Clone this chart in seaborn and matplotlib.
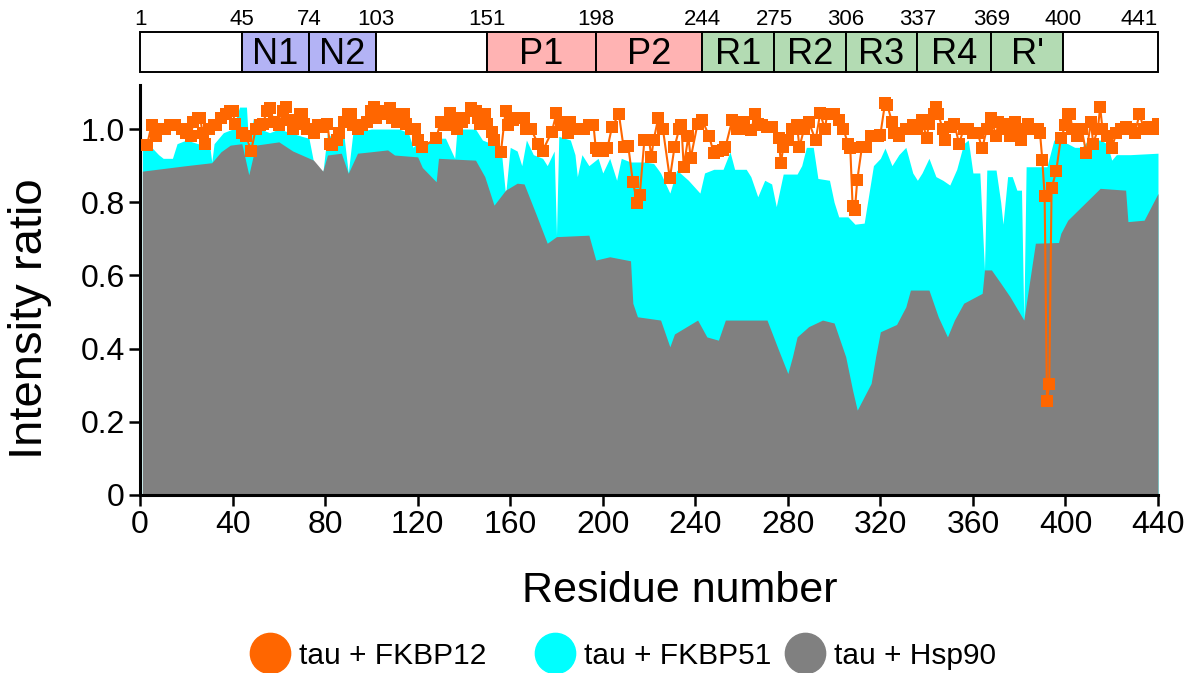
import matplotlib
matplotlib.use("Agg")
import matplotlib.pyplot as plt
from matplotlib.patches import Rectangle
from matplotlib.lines import Line2D
import seaborn as sns
import pandas as pd

# tau + FKBP12 (orange squares)
fkbp12_res = [3, 5, 7, 9, 11, 13, 15, 18, 20, 22, 23, 25, 26, 27, 28, 30, 32, 33, 35, 37,
              39, 40, 41, 44, 46, 48, 50, 52, 53, 55, 56, 58, 60, 62, 63, 64, 66, 68, 69, 70,
              71, 72, 74, 75, 77, 79, 81, 82, 83, 85, 86, 88, 90, 91, 92, 94, 96, 98, 100, 101,
              102, 104, 105, 107, 108, 109, 111, 113, 114, 115, 117, 119, 120, 122, 128, 130, 132, 134, 135, 137,
              139, 140, 143, 145, 146, 147, 149, 150, 152, 153, 156, 158, 159, 161, 163, 166, 167, 169, 172, 174,
              178, 180, 182, 184, 185, 186, 189, 192, 194, 196, 197, 198, 200, 202, 204, 207, 209, 211, 213, 215,
              216, 218, 220, 221, 222, 224, 226, 229, 231, 233, 234, 235, 237, 238, 241, 243, 246, 248, 250, 252,
              253, 256, 258, 260, 261, 264, 266, 267, 269, 271, 273, 276, 277, 278, 280, 282, 284, 285, 287, 289,
              292, 294, 296, 297, 300, 302, 304, 306, 307, 308, 309, 310, 312, 314, 316, 319, 320, 322, 323, 325,
              326, 328, 331, 334, 336, 338, 340, 341, 343, 344, 345, 347, 348, 350, 352, 354, 356, 358, 360, 362,
              364, 366, 368, 370, 371, 373, 375, 376, 378, 379, 381, 383, 384, 386, 388, 389, 390, 391, 392, 393,
              394, 396, 398, 400, 401, 402, 403, 405, 407, 409, 411, 412, 414, 415, 416, 418, 420, 422, 424, 426,
              428, 430, 432, 434, 436, 438, 440]
fkbp12_ratio = [0.956, 1.01, 0.98, 1.0, 1.0, 1.01, 1.01, 1.0, 0.99, 0.98, 1.02, 1.03, 1.03, 0.99, 0.96, 1.0, 1.01, 1.01, 1.03, 1.04,
                1.05, 1.05, 1.015, 0.99, 0.98, 0.94, 1.0, 1.01, 1.015, 1.05, 1.057, 1.02, 1.01, 1.05, 1.06, 1.025, 1.0, 1.02, 1.04, 1.04,
                1.015, 1.0, 1.0, 0.99, 1.01, 1.006, 1.015, 0.96, 0.956, 0.97, 0.99, 1.02, 1.04, 1.04, 1.01, 1.0, 1.01, 1.02, 1.05, 1.06,
                1.03, 1.04, 1.05, 1.04, 1.057, 1.03, 1.02, 1.04, 1.04, 1.015, 1.0, 1.0, 0.97, 0.95, 0.975, 1.02, 1.01, 1.043, 1.03, 1.0,
                1.02, 1.03, 1.057, 1.05, 1.03, 1.015, 1.04, 1.015, 0.993, 0.97, 0.938, 1.05, 1.01, 1.025, 1.03, 1.03, 1.0, 1.0, 0.96, 0.94,
                0.993, 1.043, 1.01, 1.02, 0.99, 1.02, 1.0, 1.0, 1.01, 1.01, 0.947, 0.94, 0.94, 0.947, 1.006, 1.04, 0.95, 0.955, 0.856, 0.797,
                0.82, 0.97, 0.97, 0.924, 0.97, 1.03, 1.0, 0.865, 0.95, 1.0, 1.01, 0.897, 0.98, 0.92, 1.015, 1.025, 0.98, 0.934, 0.94, 0.943,
                0.95, 1.025, 1.0, 1.0, 1.02, 0.997, 1.04, 1.015, 1.01, 1.006, 1.006, 0.975, 0.906, 0.95, 0.97, 1.0, 1.01, 0.95, 1.0, 1.02,
                0.97, 1.043, 1.0, 1.04, 1.04, 1.025, 1.0, 0.96, 0.947, 0.79, 0.78, 0.86, 0.95, 0.95, 0.98, 0.98, 0.985, 1.07, 1.065, 1.02,
                0.99, 0.98, 1.0, 1.01, 1.0, 1.025, 0.975, 1.015, 1.04, 1.06, 1.04, 1.0, 0.97, 1.006, 1.015, 0.96, 1.0, 1.0, 0.99, 0.99,
                0.947, 1.0, 1.03, 0.98, 1.02, 1.015, 1.0, 0.98, 1.02, 1.0, 0.97, 1.0, 1.015, 1.0, 1.0, 0.99, 0.915, 0.817, 0.258, 0.303,
                0.838, 0.885, 0.975, 1.01, 1.04, 1.04, 1.0, 0.98, 1.0, 0.934, 1.02, 0.96, 1.0, 1.06, 1.0, 0.98, 0.947, 0.99, 1.0, 1.006,
                1.0, 0.99, 1.04, 1.0, 1.006, 1.0, 1.015]

# tau + FKBP51 (cyan area)
fkbp51_res = [1, 5, 8, 10, 14, 16, 20, 25, 30, 31, 32, 36, 40, 43, 46, 47, 49, 52, 56, 60,
              65, 70, 73, 75, 77, 79, 81, 85, 88, 90, 92, 100, 106, 112, 116, 118, 121, 123, 128, 132,
              136, 137, 145, 148, 152, 156, 158, 160, 163, 165, 167, 170, 174, 176, 179, 180, 181, 186, 188, 189,
              191, 194, 198, 200, 203, 206, 208, 212, 218, 222, 225, 229, 232, 237, 242, 244, 248, 252, 255, 257,
              262, 264, 267, 270, 273, 275, 278, 284, 286, 288, 291, 293, 298, 300, 302, 306, 309, 313, 317, 320,
              322, 325, 328, 331, 334, 336, 338, 341, 344, 347, 350, 353, 356, 358, 360, 363, 365, 366, 370, 372,
              373, 375, 377, 379, 381, 382, 383, 392, 395, 401, 404, 407, 410, 415, 418, 420, 422, 428, 440]
fkbp51_ratio = [0.96, 0.95, 0.93, 0.92, 0.92, 0.96, 0.97, 0.96, 0.96, 0.91, 0.96, 0.99, 1.0, 1.06, 1.06, 0.95, 1.03, 1.0, 0.99, 1.0,
                0.99, 0.98, 0.975, 0.91, 0.89, 0.88, 0.99, 0.96, 0.99, 0.88, 0.99, 1.0, 1.0, 1.0, 0.99, 0.95, 0.97, 0.96, 0.975, 0.975,
                0.92, 1.0, 1.0, 0.97, 0.96, 0.95, 0.82, 0.95, 0.94, 0.9, 0.97, 0.93, 0.92, 0.9, 0.94, 0.71, 0.98, 0.97, 0.93, 0.87,
                0.93, 0.9, 0.92, 0.88, 0.92, 0.86, 0.92, 0.91, 0.91, 0.906, 0.88, 0.825, 0.888, 0.86, 0.825, 0.88, 0.89, 0.89, 0.938, 0.89,
                0.89, 0.87, 0.815, 0.86, 0.85, 0.788, 0.877, 0.877, 0.9, 0.95, 0.95, 0.865, 0.86, 0.8, 0.76, 0.76, 0.74, 0.743, 0.9, 0.92,
                0.948, 0.9, 0.93, 0.95, 0.88, 0.86, 0.88, 0.92, 0.87, 0.86, 0.847, 0.89, 0.96, 0.97, 0.88, 0.88, 0.615, 0.888, 0.888, 0.8,
                0.74, 0.87, 0.87, 0.833, 0.833, 0.478, 0.897, 0.897, 0.97, 0.96, 0.95, 0.95, 0.97, 0.97, 0.96, 0.915, 0.93, 0.93, 0.934]

# tau + Hsp90 (grey area)
hsp90_res = [1, 20, 31, 35, 39, 44, 47, 50, 60, 66, 75, 79, 81, 87, 90, 94, 100, 107, 110, 120,
             122, 128, 129, 145, 149, 153, 158, 163, 166, 171, 176, 180, 194, 197, 203, 212, 213, 215, 225, 229,
             231, 241, 245, 250, 253, 271, 276, 280, 282, 284, 289, 295, 300, 305, 308, 310, 316, 318, 320, 327,
             331, 333, 341, 345, 349, 352, 356, 364, 365, 368, 372, 376, 382, 387, 397, 398, 401, 415, 426, 427,
             434, 440]
hsp90_ratio = [0.885, 0.9, 0.908, 0.938, 0.956, 0.96, 0.875, 0.956, 0.965, 0.94, 0.915, 0.885, 0.929, 0.934, 0.879, 0.934, 0.938, 0.943, 0.929, 0.924,
               0.895, 0.856, 0.92, 0.915, 0.87, 0.792, 0.833, 0.852, 0.85, 0.77, 0.688, 0.706, 0.71, 0.642, 0.651, 0.64, 0.524, 0.487, 0.478, 0.405,
               0.44, 0.478, 0.432, 0.423, 0.478, 0.478, 0.396, 0.332, 0.378, 0.432, 0.46, 0.478, 0.47, 0.378, 0.286, 0.232, 0.305, 0.38, 0.446, 0.466,
               0.514, 0.56, 0.56, 0.487, 0.432, 0.478, 0.524, 0.551, 0.615, 0.615, 0.579, 0.542, 0.478, 0.688, 0.69, 0.715, 0.751, 0.838, 0.833, 0.747,
               0.751, 0.824]

# domain map of tau
domain_edges = [1, 45, 74, 103, 151, 198, 244, 275, 306, 337, 369, 400, 441]
domain_names = ["", "N1", "N2", "", "P1", "P2", "R1", "R2", "R3", "R4", "R'", ""]
domain_kind = ["none", "N", "N", "none", "P", "P", "R", "R", "R", "R", "R", "none"]
kind_color = {"none": "white", "N": "#b3b3f5", "P": "#ffb3b3", "R": "#b3dbb3"}

series_names = ["tau + FKBP12", "tau + FKBP51", "tau + Hsp90"]
orange = "#ff6600"
cyan = "#00ffff"
grey = "#808080"

sns.set_theme(style="ticks")
plt.rcParams['font.family'] = ['Liberation Sans', 'DejaVu Sans']
plt.rcParams.update({"text.color": "black", "axes.labelcolor": "black",
                     "xtick.color": "black", "ytick.color": "black"})

df12 = pd.DataFrame({"res": fkbp12_res, "ratio": fkbp12_ratio})

fig = plt.figure(figsize=(11.99, 6.73), dpi=100)
ax = fig.add_axes([0.1168, 0.2645, 0.849, 0.609])

ax.fill_between(fkbp51_res, fkbp51_ratio, 0, color=cyan, linewidth=0, zorder=1)
ax.fill_between(hsp90_res, hsp90_ratio, 0, color=grey, linewidth=0, zorder=2)
sns.lineplot(data=df12, x="res", y="ratio", ax=ax, color=orange, marker="s", markersize=9,
             markeredgewidth=0, linewidth=1.5, zorder=3)

ax.set_xlim(0, 440)
ax.set_ylim(0, 1.12)
ax.set_xticks(range(0, 441, 40))
ax.set_yticks([0, 0.2, 0.4, 0.6, 0.8, 1.0])
ax.set_yticklabels(["0", "0.2", "0.4", "0.6", "0.8", "1.0"], fontsize=23)
ax.tick_params(axis="x", labelsize=23)
ax.tick_params(axis="both", direction="out", length=8, width=1.8, color="black", pad=3)
ax.set_xlabel("Residue number", fontsize=31)
ax.xaxis.set_label_coords(0.53, -0.185)
ax.set_ylabel("Intensity ratio", fontsize=34)
ax.yaxis.set_label_coords(-0.086, 0.43)
for s in ["left", "bottom"]:
    ax.spines[s].set_linewidth(2.2)
    ax.spines[s].set_color("black")
sns.despine(ax=ax)

# domain bar on top
dax = fig.add_axes([0.1168, 0.893, 0.849, 0.0594])
dax.set_xlim(1, 441)
dax.set_ylim(0, 1)
dax.axis("off")
for i in range(len(domain_names)):
    x0, x1 = domain_edges[i], domain_edges[i + 1]
    dax.add_patch(Rectangle((x0, 0), x1 - x0, 1, facecolor=kind_color[domain_kind[i]],
                            edgecolor="black", linewidth=1.4, clip_on=False))
    if domain_names[i]:
        dax.text((x0 + x1) / 2, 0.45, domain_names[i], ha="center", va="center", fontsize=26)
for j, e in enumerate(domain_edges):
    ha = "right" if j == len(domain_edges) - 1 else "center"
    dax.text(e, 1.05, str(e), ha=ha, va="bottom", fontsize=16)

# legend entries placed one by one (uneven spacing as in the original)
legend_left = [251, 536, 786]
for name, c, xl in zip(series_names, [orange, cyan, grey], legend_left):
    h = Line2D([], [], marker="o", linestyle="none", markersize=29, color=c)
    fig.legend([h], [name], loc="center left", bbox_to_anchor=(xl / 1199, 0.026),
               frameon=False, borderpad=0, borderaxespad=0, handlelength=1.3,
               handletextpad=0.3, fontsize=21.5)

fig.savefig("out.png", dpi=100)
